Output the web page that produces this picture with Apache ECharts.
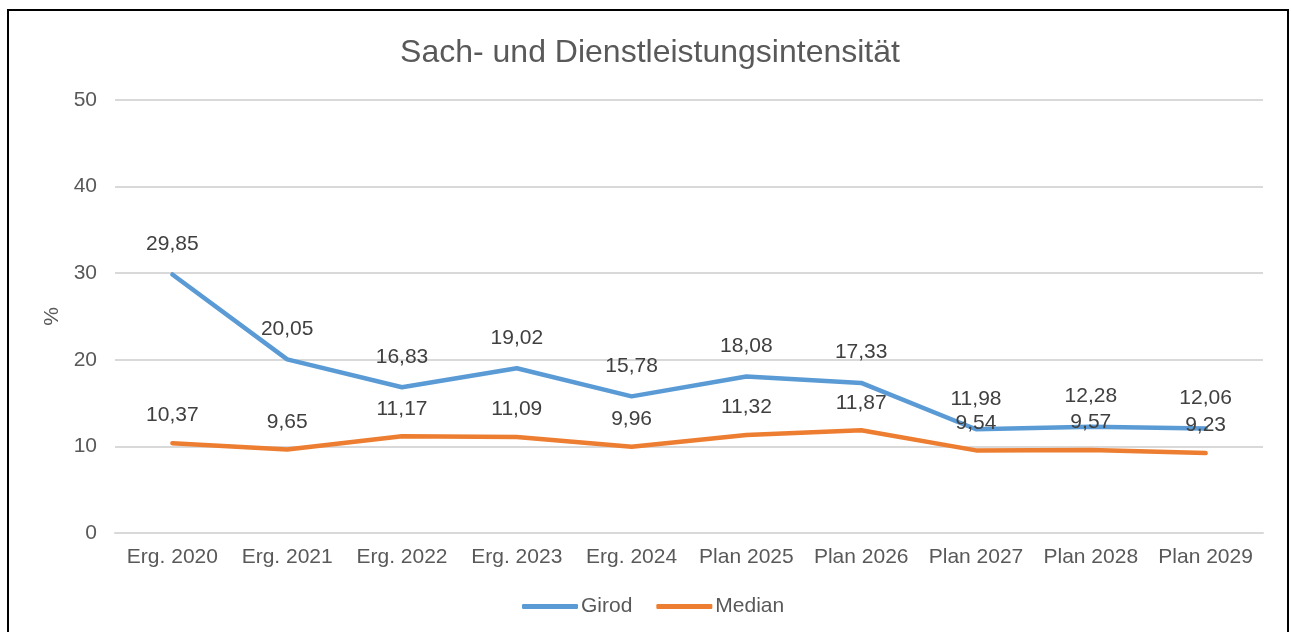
<!DOCTYPE html>
<html>
<head>
<meta charset="utf-8">
<script src="https://cdn.jsdelivr.net/npm/echarts@6/dist/echarts.min.js"></script>
<style>
  html, body { margin: 0; padding: 0; background: #fff; }
  #chart { width: 1291px; height: 632px; }
</style>
</head>
<body>
<div id="chart"></div>
<script>
const categories = ['Erg. 2020', 'Erg. 2021', 'Erg. 2022', 'Erg. 2023', 'Erg. 2024',
  'Plan 2025', 'Plan 2026', 'Plan 2027', 'Plan 2028', 'Plan 2029']
const girod = [29.85, 20.05, 16.83, 19.02, 15.78, 18.08, 17.33, 11.98, 12.28, 12.06]
const median = [10.37, 9.65, 11.17, 11.09, 9.96, 11.32, 11.87, 9.54, 9.57, 9.23]

const font = 'Liberation Sans, Arial, sans-serif'
const labelOption = {
  show: true, position: 'top', distance: 20,
  color: '#404040', fontSize: 21, fontFamily: font,
  formatter: p => p.value.toFixed(2).replace('.', ',')
}

const myChart = echarts.init(document.getElementById('chart'))
myChart.setOption({
  animation: false,
  textStyle: {fontFamily: font},
  title: {
    text: 'Sach- und Dienstleistungsintensität',
    left: 645, top: 32, textAlign: 'center',
    textStyle: {fontSize: 32, fontWeight: 'normal', color: '#595959', fontFamily: font}
  },
  graphic: [{
    type: 'rect', silent: true,
    shape: {x: 8, y: 10, width: 1280, height: 640},
    style: {fill: 'none', stroke: '#000', lineWidth: 2}
  }],
  legend: {
    bottom: 10, left: 517,
    icon: 'roundRect',
    itemWidth: 56, itemHeight: 5, itemGap: 24,
    textStyle: {fontSize: 21, color: '#595959', padding: [0, 0, 0, -2]},
    data: ['Girod', 'Median']
  },
  grid: {left: 115, right: 28, top: 100, bottom: 99},
  xAxis: {
    type: 'category', data: categories,
    axisLine: {lineStyle: {color: '#d9d9d9', width: 2}},
    axisTick: {show: false},
    axisLabel: {color: '#595959', fontSize: 21, margin: 14, interval: 0}
  },
  yAxis: {
    type: 'value', min: 0, max: 50, interval: 10,
    name: '%', nameLocation: 'middle', nameGap: 47,
    nameTextStyle: {color: '#595959', fontSize: 21},
    axisLine: {show: false}, axisTick: {show: false},
    axisLabel: {color: '#595959', fontSize: 21, margin: 18},
    splitLine: {lineStyle: {color: '#d9d9d9', width: 2}}
  },
  color: ['#5B9BD5', '#ED7D31'],
  series: [
    {name: 'Girod', type: 'line', data: girod, symbol: 'circle', symbolSize: 0, showSymbol: true,
      lineStyle: {width: 4.5, cap: 'round'}, label: labelOption},
    {name: 'Median', type: 'line', data: median, symbol: 'circle', symbolSize: 0, showSymbol: true,
      lineStyle: {width: 4.5, cap: 'round'}, label: {...labelOption, distance: 17}}
  ]
})
</script>
</body>
</html>
